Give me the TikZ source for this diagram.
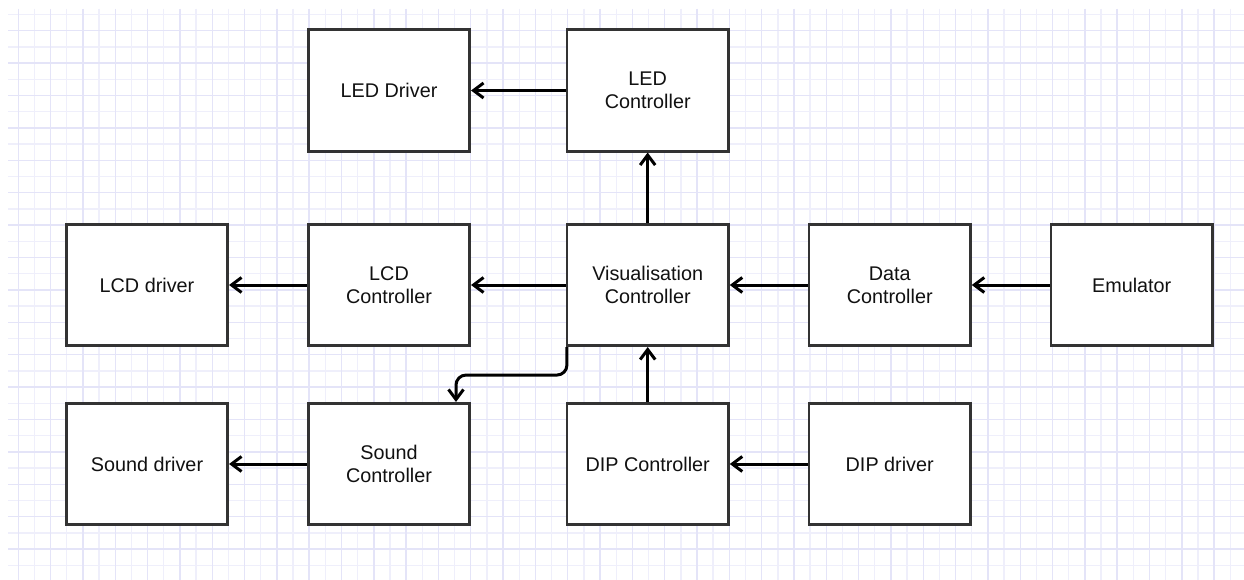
\documentclass[tikz,border=0pt]{standalone}
\usepackage{fontspec}
\setmainfont{Liberation Sans}
\usetikzlibrary{arrows.meta,calc}
\definecolor{gridA}{HTML}{E4E4F8}
\definecolor{gridB}{HTML}{EFEFFB}
\definecolor{boxline}{HTML}{333333}
\definecolor{txt}{HTML}{111111}
\tikzset{
  box/.style={draw=boxline, line width=2.6pt, fill=white, minimum width=161.5pt,
    minimum height=121.5pt, align=center, text=txt, inner sep=0pt,
    font=\fontsize{19.8}{23}\selectfont},
  arr/.style={draw=black, line width=3pt,
    -{Straight Barb[length=10pt,width=15pt]}},
  gA/.style={draw=gridA, line width=1.4pt},
  gB/.style={draw=gridB, line width=1.4pt}
}
\begin{document}
\begin{tikzpicture}[x=1pt,y=-1pt]
\useasboundingbox (0,0) rectangle (1244,580);
\fill[white] (0,0) rectangle (1244,580);
% grid
\foreach \k in {0,...,37} {
  \draw[gB] ({34.46+32.32*\k},9) -- ({34.46+32.32*\k},580);
}
\foreach \k in {0,...,17} {
  \draw[gB] (8,{14.5+32.4*\k}) -- (1244,{14.5+32.4*\k});
}
\foreach \k in {0,...,38} {
  \draw[gA] ({18.3+32.32*\k},9) -- ({18.3+32.32*\k},580);
}
\foreach \k in {0,...,16} {
  \draw[gA] (8,{30.7+32.4*\k}) -- (1244,{30.7+32.4*\k});
}
% boxes
\node[box] (ledd) at (389,90.5) {LED Driver};
\node[box] (ledc) at (647.7,90.5) {LED\\Controller};
\node[box] (lcdd) at (147,285) {LCD driver};
\node[box] (lcdc) at (389,285) {LCD\\Controller};
\node[box] (vis) at (647.7,285) {Visualisation\\Controller};
\node[box] (data) at (889.7,285) {Data\\Controller};
\node[box] (emu) at (1131.7,285) {Emulator};
\node[box] (sndd) at (147,464) {Sound driver};
\node[box] (sndc) at (389,464) {Sound\\Controller};
\node[box] (dipc) at (647.7,464) {DIP Controller};
\node[box] (dipd) at (889.7,464) {DIP driver};
\coordinate (sndin) at ($(sndc.north)+(67,0)$);
% connectors
\draw[arr] (ledc.west) -- (ledd.east);
\draw[arr] (vis.north) -- (ledc.south);
\draw[arr] (vis.west) -- (lcdc.east);
\draw[arr] (lcdc.west) -- (lcdd.east);
\draw[arr] (data.west) -- (vis.east);
\draw[arr] (emu.west) -- (data.east);
\draw[arr] (dipc.north) -- (vis.south);
\draw[arr] (dipd.west) -- (dipc.east);
\draw[arr] (sndc.west) -- (sndd.east);
\draw[arr, rounded corners=10pt] ([xshift=1.3pt]vis.south west) -- ++(0,28) -| (sndin);
\end{tikzpicture}
\end{document}
